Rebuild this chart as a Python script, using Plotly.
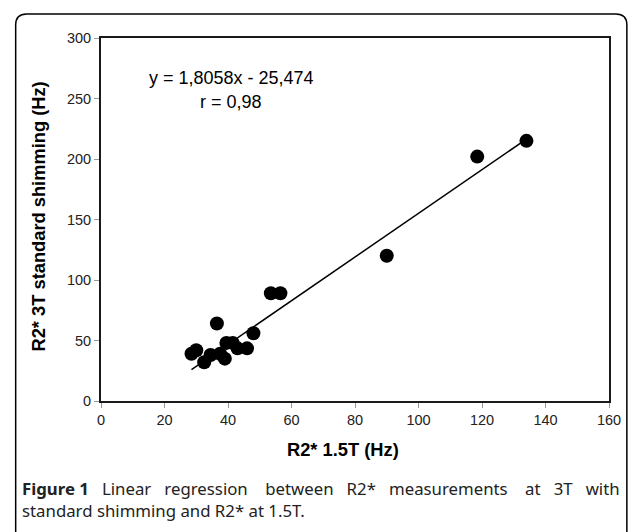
import plotly.graph_objects as go

# R2* values (Hz)
r2_15t = [28.5, 30, 32.5, 34.5, 36.5, 37.5, 39, 39.5, 41.5, 43, 46, 48, 53.5, 56.5, 90, 118.5, 134]
r2_3t = [39, 42, 32, 38, 64, 39, 35, 48, 48, 43.5, 43.5, 56, 89, 89, 120, 202, 215]

# regression reported on the chart
slope = 1.8058
intercept = -25.474
equation_label = "y = 1,8058x - 25,474"
r_label = "r = 0,98"

x_ticks = [0, 20, 40, 60, 80, 100, 120, 140, 160]
y_ticks = [0, 50, 100, 150, 200, 250, 300]

caption_bold = "Figure 1"
caption_line1 = "Linear regression between R2* measurements at 3T with"
caption_line2 = "standard shimming and R2* at 1.5T."

x_fit = [min(r2_15t), max(r2_15t)]
y_fit = [slope * v + intercept for v in x_fit]

W, H = 633, 532
L, R, T, B = 101, 20, 38, 131
PW, PH = W - L - R, H - T - B
ARIAL = "Liberation Sans"


def px(x):
    return (x - L) / PW


def py(y):
    return (T + PH - y) / PH


fig = go.Figure()
fig.add_trace(go.Scatter(x=x_fit, y=y_fit, mode="lines",
                         line=dict(color="black", width=1.5), hoverinfo="skip"))
fig.add_trace(go.Scatter(x=r2_15t, y=r2_3t, mode="markers",
                         marker=dict(color="black", size=14)))

axis_common = dict(showgrid=False, zeroline=False, showline=True, linecolor="#1a1a1a",
                   linewidth=2, mirror=True, ticks="outside", ticklen=5, tickcolor="#999",
                   tickfont=dict(family=ARIAL, size=14.5, color="#222"))
fig.update_xaxes(range=[0, 160], tickvals=x_ticks, **axis_common)
fig.update_yaxes(range=[0, 300], tickvals=y_ticks, **axis_common)

# rounded outer frame
x0, x1, y0, y1, rad = 15, 631, 14, 560, 11
path = (f"M {px(x0)},{py(y1)} L {px(x0)},{py(y0 + rad)} "
        f"Q {px(x0)},{py(y0)} {px(x0 + rad)},{py(y0)} "
        f"L {px(x1 - rad)},{py(y0)} Q {px(x1)},{py(y0)} {px(x1)},{py(y0 + rad)} "
        f"L {px(x1)},{py(y1)}")
fig.add_shape(type="path", path=path, xref="paper", yref="paper",
              line=dict(color="black", width=1.5))

# first caption line is justified in the reference: widen the gaps
words = caption_line1.split(" ")
line1 = f"<b>{caption_bold}</b> &nbsp;&nbsp;"
for i, w in enumerate(words):
    line1 += w
    if i < len(words) - 1:
        line1 += " &nbsp;&nbsp;&nbsp;" if i % 3 == 1 else " &nbsp;&nbsp;"

anns = [
    dict(x=14.4, y=267, xref="x", yref="y", xanchor="left", text=equation_label,
         font=dict(size=18)),
    dict(x=41, y=247, xref="x", yref="y", xanchor="center", text=r_label,
         font=dict(size=18)),
    dict(x=px(345), y=py(450), xref="paper", yref="paper", xanchor="center",
         text="<b>R2* 1.5T (Hz)</b>", font=dict(size=18.3)),
    dict(x=px(37), y=py(217), xref="paper", yref="paper", xanchor="center", textangle=-90,
         text="<b>R2* 3T standard shimming (Hz)</b>", font=dict(size=18.3)),
    dict(x=px(19), y=py(488), xref="paper", yref="paper", xanchor="left", text=line1,
         font=dict(family="Noto Sans", size=16.8, color="#222")),
    dict(x=px(19), y=py(510), xref="paper", yref="paper", xanchor="left", text=caption_line2,
         font=dict(family="Noto Sans", size=16.8, color="#222")),
]
for a in anns:
    a.setdefault("font", {})
    a["font"].setdefault("family", ARIAL)
    a["font"].setdefault("color", "black")
    a["showarrow"] = False
    a["yanchor"] = "middle"
    fig.add_annotation(**a)

fig.update_layout(width=W, height=H, margin=dict(l=L, r=R, t=T, b=B),
                  plot_bgcolor="white", paper_bgcolor="white", showlegend=False)

# the page's default body margin would shift the chart by 8px
fig.write_html("out.html", config={"displayModeBar": False},
               post_script="document.body.style.margin='0';")
